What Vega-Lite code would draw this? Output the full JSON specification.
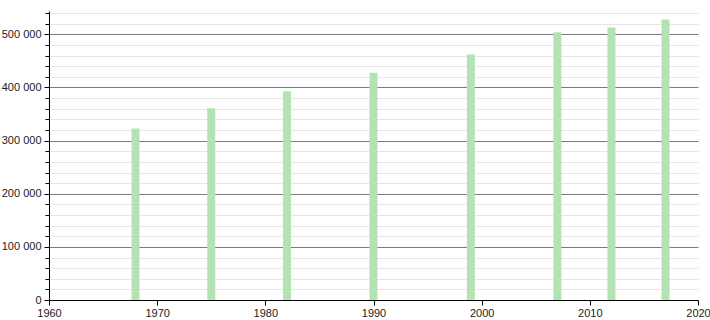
{
  "$schema": "https://vega.github.io/schema/vega-lite/v6.json",
  "autosize": "none",
  "width": 649,
  "height": 289,
  "padding": {"left": 49, "top": 11, "right": 12, "bottom": 20},
  "background": "white",
  "config": {
    "view": {"stroke": null},
    "axis": {"labelFont": "Liberation Sans", "labelFontSize": 11, "labelColor": "#222", "domainColor": "#000", "tickColor": "#000", "titleFontSize": 0}
  },
  "data": {
    "values": [
      {"year": 1968, "pop": 323000},
      {"year": 1975, "pop": 361000},
      {"year": 1982, "pop": 393000},
      {"year": 1990, "pop": 428000},
      {"year": 1999, "pop": 462000},
      {"year": 2007, "pop": 504000},
      {"year": 2012, "pop": 513000},
      {"year": 2017, "pop": 528000}
    ]
  },
  "layer": [
    {
      "mark": {"type": "bar", "opacity": 0, "size": 8},
      "encoding": {
        "x": {"field": "year", "type": "quantitative", "scale": {"domain": [1960, 2020], "nice": false, "zero": false, "padding": 0},
          "axis": {"title": null, "values": [1960,1970,1980,1990,2000,2010,2020], "format": "d", "grid": false, "tickSize": 5, "labelPadding": 2, "labelFlush": false}},
        "y": {"field": "pop", "type": "quantitative", "scale": {"domain": [0, 544000], "nice": false},
          "axis": {"orient": "left", "title": null, "values": [20000,40000,60000,80000,120000,140000,160000,180000,220000,240000,260000,280000,320000,340000,360000,380000,420000,440000,460000,480000,520000,540000], "labels": false, "domain": false, "grid": true, "gridColor": "#e6e6e6", "gridWidth": 1, "tickSize": 4, "tickColor": "#000"}}
      }
    },
    {
      "mark": {"type": "bar", "color": "#b3e3b5", "size": 8},
      "encoding": {
        "x": {"field": "year", "type": "quantitative", "scale": {"domain": [1960, 2020], "nice": false, "zero": false, "padding": 0},
          "axis": {"title": null, "values": [1960,1970,1980,1990,2000,2010,2020], "format": "d", "grid": false, "tickSize": 5, "labelPadding": 2, "labelFlush": false}},
        "y": {"field": "pop", "type": "quantitative", "scale": {"domain": [0, 544000], "nice": false},
          "axis": {"orient": "left", "title": null, "values": [0,100000,200000,300000,400000,500000], "labelExpr": "replace(format(datum.value, ','), regexp(',', 'g'), ' ')", "grid": true, "gridColor": "#7a7a7a", "gridWidth": 1, "tickSize": 5, "labelPadding": 3}}
      }
    }
  ],
  "resolve": {"axis": {"y": "independent"}}
}
